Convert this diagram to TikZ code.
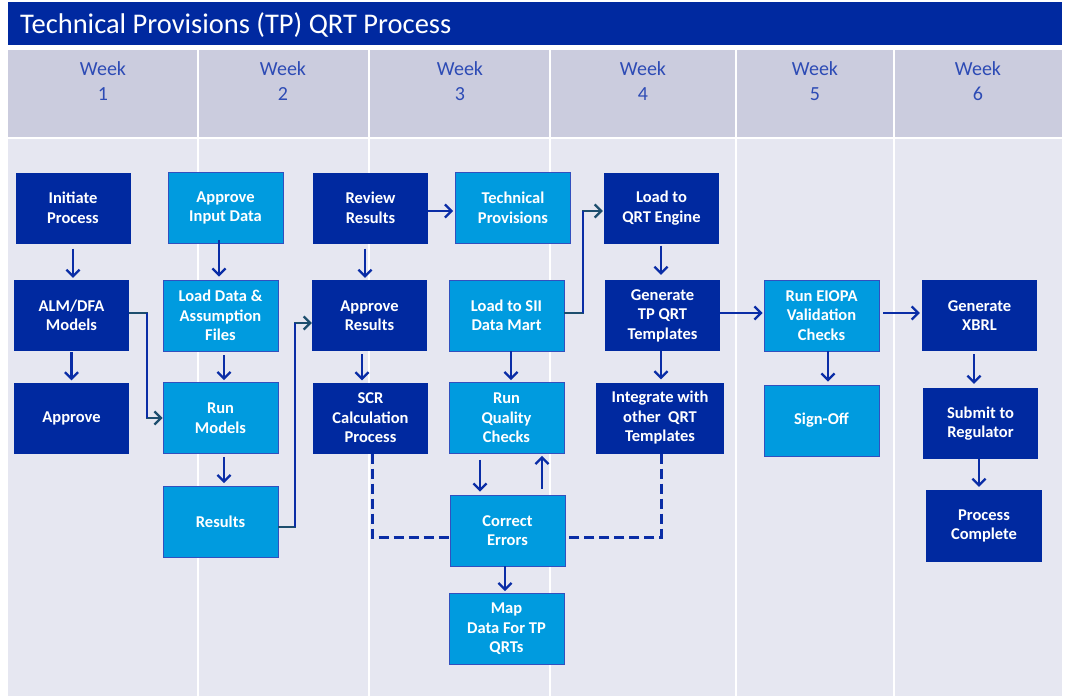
\documentclass[tikz,border=0pt]{standalone}
\usepackage{fontspec}
\setmainfont{Carlito}
\usetikzlibrary{arrows.meta,calc}
\definecolor{titleblue}{RGB}{0,41,160}
\definecolor{darkbox}{RGB}{0,41,160}
\definecolor{lightbox}{RGB}{0,155,223}
\definecolor{lightborder}{RGB}{50,80,190}
\definecolor{arrowblue}{RGB}{10,45,166}
\definecolor{tealline}{RGB}{29,78,110}
\definecolor{headerbg}{RGB}{203,204,222}
\definecolor{bodybg}{RGB}{230,231,241}
\definecolor{weektext}{RGB}{45,75,181}
\tikzset{
  box/.style={minimum width=115pt, minimum height=71pt, inner sep=0pt, align=center,
    text=white, font=\fontsize{16.5}{19.5}\selectfont\bfseries},
  darkb/.style={box, fill=darkbox},
  lightb/.style={box, fill=lightbox, draw=lightborder, line width=0.8pt},
  arr/.style={draw=arrowblue, line width=2.3pt, -{Straight Barb[length=6.5pt,width=13pt,line width=2.3pt]}},
  tarr/.style={draw=tealline, line width=2.3pt, -{Straight Barb[length=6.5pt,width=13pt,line width=2.3pt]}},
  vseg/.style={draw=arrowblue, line width=2.3pt},
  dashline/.style={draw=arrowblue, line width=3pt, dash pattern=on 10pt off 5pt},
  weeklbl/.style={text=weektext, align=center, font=\fontsize{20}{25}\selectfont, anchor=north, inner sep=0pt}
}
\begin{document}
\begin{tikzpicture}[x=1pt,y=-1pt]
\useasboundingbox (0,0) rectangle (1065,696);
\fill[white] (0,0) rectangle (1065,696);
% title
\fill[titleblue] (8,2) rectangle (1062,45);
\node[anchor=base west, text=white, font=\fontsize{28.5}{34}\selectfont, inner sep=0pt] (title) at (20,33) {Technical Provisions (TP) QRT Process};
% header and body bands
\foreach \a/\b [count=\i] in {8/197,199/368,370/549,551/735,737/893,895/1062} {
  \fill[headerbg] (\a,50) rectangle (\b,137);
  \fill[bodybg] (\a,139) rectangle (\b,696);
}
\node[weeklbl] (w1) at (103,61) {Week\\1};
\node[weeklbl] (w2) at (283,61) {Week\\2};
\node[weeklbl] (w3) at (460,61) {Week\\3};
\node[weeklbl] (w4) at (643,61) {Week\\4};
\node[weeklbl] (w5) at (815,61) {Week\\5};
\node[weeklbl] (w6) at (978,61) {Week\\6};
% boxes
\node[darkb] (init) at (73,208) {Initiate\\Process};
\node[darkb] (alm) at (71.5,315.5) {ALM/DFA\\Models};
\node[darkb] (appr) at (71.5,418) {Approve};
\node[lightb] (aid) at (225.5,208) {Approve\\Input Data};
\node[lightb] (load) at (220.5,315.5) {Load Data \&\\Assumption\\Files};
\node[lightb] (runm) at (220.5,418) {Run\\Models};
\node[lightb] (res) at (220.5,522) {Results};
\node[darkb] (rev) at (370.5,208) {Review\\Results};
\node[darkb] (apres) at (369.5,315.5) {Approve\\Results};
\node[darkb] (scr) at (370.5,418) {SCR\\Calculation\\Process};
\node[lightb] (tp) at (513,208) {Technical\\Provisions};
\node[lightb] (sii) at (506.5,315.5) {Load to SII\\Data Mart};
\node[lightb] (rqc) at (506.5,418) {Run\\Quality\\Checks};
\node[lightb] (ce) at (507.5,530.5) {Correct\\Errors};
\node[lightb] (map) at (506.5,629) {Map\\Data For TP\\QRTs};
\node[darkb] (qrt) at (661.5,208) {Load to\\QRT Engine};
\node[darkb] (gen) at (662.5,315.5) {Generate\\TP QRT\\Templates};
\node[darkb, minimum width=128pt] (integ) at (660,418) {Integrate with\\other\ \ QRT\\Templates};
\node[lightb] (eiopa) at (821.5,315.5) {Run EIOPA\\Validation\\Checks};
\node[lightb] (sign) at (821.5,420.5) {Sign-Off};
\node[darkb] (xbrl) at (979.5,315.5) {Generate\\XBRL};
\node[darkb] (sub) at (980.5,423.5) {Submit to\\Regulator};
\node[darkb, minimum width=116pt, minimum height=72pt] (pc) at (984,526) {Process\\Complete};
% vertical arrows
\draw[arr] ($(init.south)+(0,5)$) -- ($(init.south |- alm.north)+(0,-2)$);
\draw[arr] ($(alm.south)+(0,1)$) -- ($(appr.north)+(0,-2)$);
\draw[arr] ($(aid.south -| 219,0)+(0,-4)$) -- ($(load.north -| 219,0)+(0,-3)$);
\draw[arr] ($(load.south -| 224,0)+(0,4)$) -- ($(runm.north -| 224,0)+(0,-2)$);
\draw[arr] ($(runm.south -| 224,0)+(0,3)$) -- ($(res.north -| 224,0)+(0,-3)$);
\draw[arr] ($(rev.south -| 365,0)+(0,5)$) -- ($(apres.north -| 365,0)+(0,-2)$);
\draw[arr] ($(apres.south -| 362,0)+(0,3)$) -- ($(scr.north -| 362,0)+(0,-2)$);
\draw[arr] ($(sii.south -| 511,0)$) -- ($(rqc.north -| 511,0)+(0,-2)$);
\draw[arr] ($(rqc.south -| 480,0)+(0,6)$) -- ($(ce.north -| 480,0)+(0,-3)$);
\draw[arr] ($(ce.north -| 542,0)+(0,-6)$) -- ($(rqc.south -| 542,0)+(0,2)$);
\draw[arr] ($(ce.south -| 505,0)$) -- ($(map.north -| 505,0)+(0,-2)$);
\draw[arr] ($(qrt.south -| 661,0)+(0,2)$) -- ($(gen.north -| 661,0)+(0,-5)$);
\draw[arr] ($(gen.south -| 661,0)$) -- ($(integ.north -| 661,0)+(0,-3)$);
\draw[arr] ($(eiopa.south -| 828,0)$) -- ($(sign.north -| 828,0)+(0,-3)$);
\draw[arr] ($(xbrl.south -| 974,0)+(0,3)$) -- ($(sub.north -| 974,0)+(0,-4)$);
\draw[arr] ($(sub.south -| 979,0)$) -- ($(pc.north -| 979,0)+(0,-3)$);
% horizontal arrows
\draw[arr] ($(rev.east |- 0,211)$) -- ($(tp.west |- 0,211)+(-2,0)$);
\draw[arr] ($(gen.east |- 0,313)$) -- ($(eiopa.west |- 0,313)+(-1,0)$);
\draw[arr] ($(eiopa.east |- 0,313)+(4,0)$) -- ($(xbrl.west |- 0,313)+(-2,0)$);
% elbow connectors
\coordinate (k1) at (147,313);
\coordinate (k2) at (147,418);
\draw[tarr] (alm.east |- k1) -- (k1) -- (k2) -- (runm.west |- k2);
\draw[vseg] (k1) -- (k2);
\coordinate (k3) at (295,527);
\coordinate (k4) at (295,323);
\draw[tarr] (res.east |- k3) -- (k3) -- (k4) -- (apres.west |- k4);
\draw[vseg] (k3) -- (k4);
\coordinate (k5) at (583,313);
\coordinate (k6) at (583,211);
\draw[tarr] (sii.east |- k5) -- (k5) -- (k6) -- ($(qrt.west |- k6)+(-1,0)$);
\draw[vseg] (k5) -- (k6);
% dashed connectors
\coordinate (d1) at (372,537);
\coordinate (d2) at (661,537);
\draw[dashline] (scr.south -| d1) -- (d1) -- (ce.west |- d1);
\draw[dashline] (integ.south -| d2) -- (d2) -- (ce.east |- d2);
\end{tikzpicture}
\end{document}
